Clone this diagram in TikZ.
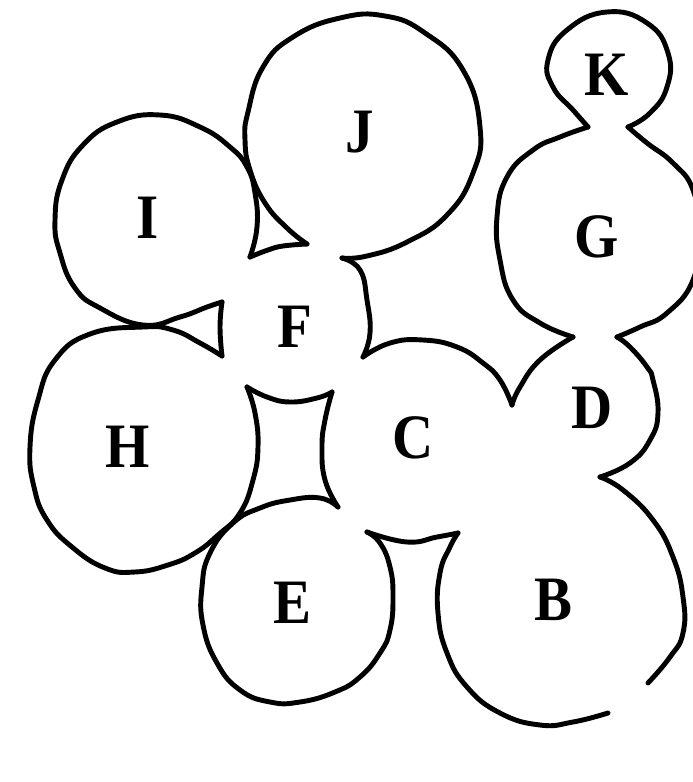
\documentclass[tikz,border=0pt]{standalone}
\usepackage{fontspec}
\setmainfont{Liberation Serif}
\usepackage{graphicx}
\newcommand{\lbltxt}[1]{\scalebox{0.9}[1]{#1}}
\begin{document}
\begin{tikzpicture}[x=0.05cm,y=-0.05cm,
  edge/.style={draw=black,line width=7pt,line cap=round,line join=round},
  lbl/.style={inner sep=0pt,font=\fontsize{90}{90}\selectfont\bfseries}]
\clip (0,0) rectangle (693,782);
\fill[white] (0,0) rectangle (693,782);
% lower-left small triangle, right edge
\draw[edge] plot[smooth,tension=0.8] coordinates {(222,302) (220,327) (222,356)};
% I
\draw[edge] plot[smooth,tension=0.8] coordinates {(222,302) (207,307) (180,317) (143,325) (100,308) (75,288) (60,253) (55,220) (62,180) (83,145) (117,122) (160,115) (200,127) (230,147) (247,167) (255,193) (257,227) (250,257)};
% upper small triangle, bottom edge
\draw[edge] plot[smooth,tension=0.8] coordinates {(250,257) (268,250) (283,246) (307,244)};
% J
\draw[edge] plot[smooth,tension=0.8] coordinates {(307,244) (287,228) (265,203) (250,170) (245,140) (248,112) (263,67) (293,37) (340,18) (385,16) (425,33) (463,70) (480,127) (473,173) (447,215) (407,242) (367,256) (342,258)};
% J-C neck
\draw[edge] plot[smooth,tension=0.8] coordinates {(342,258) (360,270) (367,300) (370,333) (363,357)};
% C top
\draw[edge] plot[smooth,tension=0.8] coordinates {(363,357) (390,343) (423,340) (457,347) (483,363) (500,380) (512,405)};
% D upper left
\draw[edge] plot[smooth,tension=0.8] coordinates {(512,405) (520,387) (540,360) (573,337)};
% G left
\draw[edge] plot[smooth,tension=0.8] coordinates {(573,337) (540,323) (513,300) (500,260) (497,217) (507,177) (533,150) (560,137) (588,127)};
% K
\draw[edge] plot[smooth,tension=0.8] coordinates {(588,127) (573,110) (553,87) (548,60) (567,30) (607,12) (647,23) (668,53) (667,87) (650,113) (628,127)};
% G right
\draw[edge] plot[smooth,tension=0.8] coordinates {(628,127) (647,143) (673,163) (693,190) (699,233) (693,280) (667,313) (640,327) (617,337)};
% D right
\draw[edge] plot[smooth,tension=0.8] coordinates {(617,337) (630,347) (647,367) (653,380) (658,413) (650,440) (630,463) (600,477)};
% B right
\draw[edge] plot[smooth,tension=0.8] coordinates {(600,477) (623,490) (653,520) (673,557) (683,597) (683,633) (670,657) (648,683)};
% B bottom
\draw[edge] plot[smooth,tension=0.8] coordinates {(608,713) (573,722) (540,725) (500,713) (467,687) (447,653) (438,613) (440,573) (450,547) (458,533)};
% neck top
\draw[edge] plot[smooth,tension=0.8] coordinates {(458,533) (437,537) (407,542) (367,532)};
% neck left and E
\draw[edge] plot[smooth,tension=0.8] coordinates {(367,532) (380,543) (390,567) (393,597) (390,630) (380,653) (360,677) (335,692) (300,702) (270,702) (240,690) (217,663) (203,625) (202,587) (210,553) (233,523) (260,508) (290,500) (320,498) (338,507)};
% H
\draw[edge] plot[smooth,tension=0.8] coordinates {(222,356) (200,343) (173,330) (143,327) (90,334) (55,360) (38,400) (30,447) (34,487) (47,520) (72,547) (105,568) (135,572) (168,565) (195,553) (218,535) (240,513) (253,480) (258,447) (255,413) (247,387)};
% square top and right
\draw[edge] plot[smooth,tension=0.8] coordinates {(247,387) (267,397) (290,402) (317,398) (332,392)};
\draw[edge] plot[smooth,tension=0.8] coordinates {(332,392) (325,420) (322,447) (325,480) (338,507)};
% labels
\node[lbl] (K) at (607,75) {\lbltxt{K}};
\node[lbl] (J) at (360,132) {\lbltxt{J}};
\node[lbl] (I) at (148,218) {\lbltxt{I}};
\node[lbl] (G) at (597,237) {\lbltxt{G}};
\node[lbl] (F) at (295,327) {\lbltxt{F}};
\node[lbl] (D) at (592,408) {\lbltxt{D}};
\node[lbl] (C) at (413,438) {\lbltxt{C}};
\node[lbl] (H) at (128,447) {\lbltxt{H}};
\node[lbl] (E) at (292,603) {\lbltxt{E}};
\node[lbl] (B) at (553,600) {\lbltxt{B}};
\end{tikzpicture}
\end{document}
